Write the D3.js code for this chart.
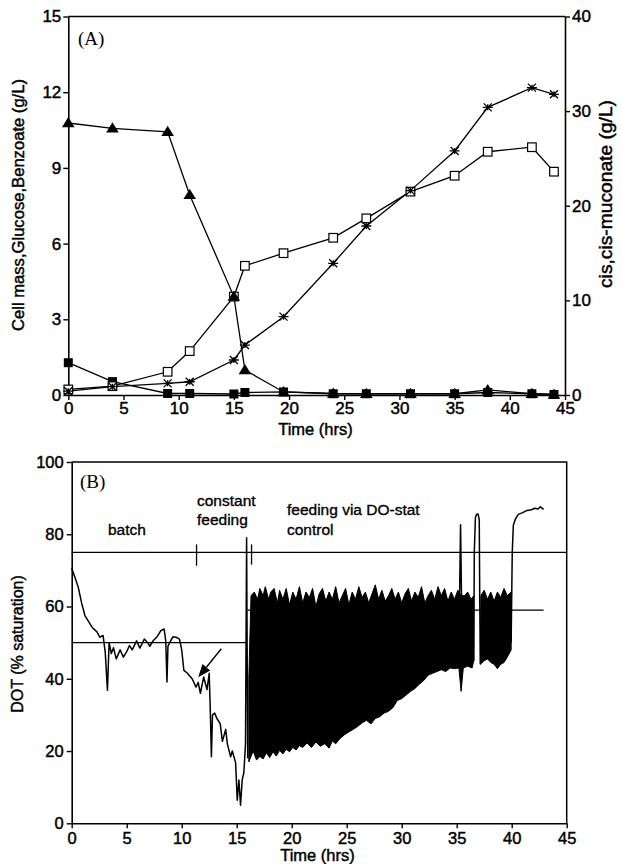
<!DOCTYPE html>
<html>
<head>
<meta charset="utf-8">
<script src="https://cdn.jsdelivr.net/npm/d3@7/dist/d3.min.js"></script>
<style>
    body { margin: 0; background: #fff; }
    svg text { font-family: "Liberation Sans", Arial, Helvetica, sans-serif; fill: #000; }
</style>
</head>
<body>
<div id="chart"></div>
<script>
// ---- Panel A : fermentation profile ----
const timesA    = [0, 4, 9, 11, 15, 16, 19.5, 24, 27, 31, 35, 38, 42, 44]
const benzoate  = [10.78, 10.57, 10.43, 7.93, 3.9, 0.99, 0.12, 0.06, 0.05, 0.05, 0.05, 0.2, 0.05, 0.02]
const glucose   = [1.28, 0.53, 0.06, 0.06, 0.04, 0.1, 0.12, 0.05, 0.05, 0.05, 0.05, 0.1, 0.05, 0.02]
const cellMass  = [0.22, 0.35, 0.92, 1.74, 3.9, 5.12, 5.62, 6.23, 7.0, 8.06, 8.69, 9.64, 9.82, 8.85]
const muconate  = [0.4, 0.88, 1.23, 1.4, 3.7, 5.28, 8.28, 13.92, 17.86, 21.6, 25.79, 30.4, 32.48, 31.78]

const ticksTime  = [0, 5, 10, 15, 20, 25, 30, 35, 40, 45]
const ticksLeftA = [0, 3, 6, 9, 12, 15]
const ticksRightA = [0, 10, 20, 30, 40]
const ticksDOT   = [0, 20, 40, 60, 80, 100]

// ---- Panel B : dissolved oxygen trace ----
// batch + constant feeding phase
const dotT = [0, 0.3, 0.6, 0.9, 1.2, 1.5, 1.8, 2.0, 2.3, 2.55, 2.85, 3.05, 3.25, 3.4, 3.6, 3.8, 4.05, 4.4, 4.7, 5.0,
              5.25, 5.5, 5.9, 6.2, 6.6, 6.9, 7.1, 7.4, 7.8, 8.1, 8.4, 8.55, 8.66, 8.75, 8.9, 9.2, 9.5, 9.8, 10.0, 10.2,
              10.5, 10.95, 11.3, 11.5, 11.7, 12.0, 12.3, 12.5, 12.6, 12.7, 12.8, 13.0, 13.2, 13.5, 13.7, 14.0, 14.15,
              14.45, 14.6, 14.9, 15.05, 15.2, 15.35, 15.5, 15.65, 15.8, 15.9, 16.0]
const dotV = [70.6, 68, 65.3, 61, 57.5, 56, 54.5, 53.8, 53, 51.5, 52, 47.3, 36.8, 50, 47, 48.6, 45.5, 48, 46, 47.5,
              49.2, 48, 50.5, 48.5, 51, 50, 49, 50.5, 51.8, 53.3, 53.8, 50.5, 39.1, 49, 50, 51.6, 51.5, 51, 48, 42.3,
              41.6, 40, 37.7, 39, 36, 40.5, 37, 41.5, 31.3, 18.4, 30, 30.5, 29, 27.6, 22.7, 26, 22,
              18.4, 20, 16.8, 6.4, 12, 5, 12, 14, 22, 79, 18]

// DO-stat oscillation band, upper and lower envelopes (two stretches)
const bandUpT1 = [16.1, 16.3, 16.6, 16.9, 17.1, 17.4, 17.6, 17.9, 18.1, 18.4, 18.7, 18.9, 19.2, 19.5, 19.8, 20.1, 20.4,
                  20.7, 21.0, 21.3, 21.6, 21.9, 22.2, 22.5, 22.8, 23.1, 23.4, 23.7, 24.0, 24.3, 24.6, 24.9, 25.2, 25.5,
                  25.8, 26.1, 26.4, 26.7, 27.0, 27.3, 27.6, 27.9, 28.2, 28.5, 28.8, 29.1, 29.4, 29.7, 30.0, 30.3, 30.6,
                  30.9, 31.2, 31.5, 31.8, 32.1, 32.4, 32.7, 33.0, 33.3, 33.6, 33.9, 34.2, 34.5, 34.8, 35.1, 35.4, 35.7,
                  36.0, 36.3, 36.55]
const bandUpV1 = [40, 63, 64, 62, 65, 63, 65.5, 62, 64, 65, 61, 64.5, 62, 65, 60.5, 64, 62,
                  65.5, 61, 64, 62.5, 65, 60, 63.5, 65, 61.5, 64, 62, 65.5, 61, 63, 65, 60.5, 64,
                  62, 65.5, 62.5, 64, 61, 63.5, 66, 62, 64.5, 61.5, 63, 65, 62, 64, 61, 63.5, 65,
                  61.5, 64, 62.5, 65.5, 61, 63, 64.5, 62, 65.5, 63, 65, 61.5, 64, 62, 64.5, 63, 63,
                  64, 62, 63]
const bandLoT1 = [16.1, 16.5, 16.8, 17.1, 17.4, 17.7, 18.0, 18.3, 18.6, 18.9, 19.2, 19.5, 19.8, 20.1, 20.4, 20.7, 21.0,
                  21.4, 21.8, 22.2, 22.6, 23.0, 23.4, 23.7, 24.0, 24.4, 24.8, 25.2, 25.6, 26.0, 26.4, 26.8, 27.2, 27.6,
                  28.0, 28.4, 28.8, 29.2, 29.6, 30.0, 30.4, 30.8, 31.2, 31.6, 32.0, 32.4, 32.8, 33.2, 33.6, 34.0, 34.4,
                  34.8, 35.2, 35.4, 35.6, 36.0, 36.4, 36.55]
const bandLoV1 = [17, 20, 17.5, 18.5, 17.8, 19.5, 18.2, 19.8, 18.6, 20.2, 19.2, 20.5, 19.8, 21, 20.3, 21.5, 21,
                  22.2, 21, 22.5, 21.3, 22, 20.8, 22.8, 22, 23.5, 24.5, 25.3, 26, 26.8, 27.8, 28.5, 27.5, 29,
                  29.5, 30.5, 31, 32, 34, 34.5, 35.5, 36.5, 37.3, 38.5, 39.5, 41, 41.5, 42, 42.5, 42, 43,
                  42.8, 43, 36.5, 43, 43.5, 43, 45]
const bandUpT2 = [37.15, 37.2, 37.5, 37.8, 38.1, 38.4, 38.7, 39.0, 39.3, 39.6, 39.95]
const bandUpV2 = [50, 63, 64.5, 62, 64, 61.5, 64, 62.5, 65, 63, 64]
const bandLoT2 = [37.15, 37.5, 37.8, 38.1, 38.4, 38.7, 39.0, 39.3, 39.6, 39.95]
const bandLoV2 = [44, 45, 45.5, 44.5, 44, 42.8, 44, 44.5, 46, 48]

// excursions above the band and the final batch-end rise
const spike1T = [35.25, 35.35, 35.45]
const spike1V = [60, 82.6, 60]
const spike2T = [36.55, 36.6, 36.7, 36.8, 36.95, 37.05, 37.1, 37.15]
const spike2V = [45, 75, 84.6, 85.5, 85.6, 84, 60, 44]
const riseT = [39.95, 40.05, 40.15, 40.35, 40.6, 41.0, 41.4, 41.8, 42.1, 42.4, 42.6, 42.9]
const riseV = [50, 75, 82.5, 84.3, 85.5, 86.0, 86.6, 86.8, 87.2, 87.0, 87.6, 86.9]

// set-point reference lines [t0, t1, value]
const refLines = [[0, 45, 75], [0, 15.9, 50], [16, 42.9, 59]]
// phase marks on the 75 % line [t, vLow, vHigh]
const phaseMarks = [[11.35, 71.3, 77.2], [16.35, 71.6, 77.2]]

const W = 622, H = 864

let svg = d3
    .select('#chart')
    .append('svg')
    .attr('width', W)
    .attr('height', H)

drawPanelA(svg)
drawPanelB(svg)

function styleAxis(g, size)
{
    g.attr('font-size', null).attr('font-family', null)
    g.selectAll('path.domain').attr('stroke-width', 1.6)
    g.selectAll('.tick line').attr('stroke-width', 1.4)
    g.selectAll('.tick text')
        .style('font-size', size + 'px')
        .attr('stroke', '#000')
        .attr('stroke-width', 0.45)
}

function drawPanelA(svg)
{
    let x  = d3.scaleLinear().domain([0, 45]).range([68.3, 565])
    let yL = d3.scaleLinear().domain([0, 15]).range([395, 16.5])
    let yR = d3.scaleLinear().domain([0, 40]).range([395, 16.5])

    let g = svg.append('g')

    // frame top
    g.append('line')
        .attr('x1', x(0)).attr('x2', x(45))
        .attr('y1', yL(15)).attr('y2', yL(15))
        .attr('stroke', '#000').attr('stroke-width', 1.5)

    g.append('g')
        .attr('transform', 'translate(0,' + yL(0) + ')')
        .call(d3.axisBottom(x).tickValues(ticksTime).tickSize(5).tickSizeOuter(0).tickPadding(2))
        .call(a => styleAxis(a, 17))

    g.append('g')
        .attr('transform', 'translate(' + x(0) + ',0)')
        .call(d3.axisLeft(yL).tickValues(ticksLeftA).tickSize(5).tickSizeOuter(0).tickPadding(2))
        .call(a => styleAxis(a, 17))

    g.append('g')
        .attr('transform', 'translate(' + x(45) + ',0)')
        .call(d3.axisRight(yR).tickValues(ticksRightA).tickSize(5).tickSizeOuter(0).tickPadding(2))
        .call(a => styleAxis(a, 17))

    let series = [
        {values: glucose,  y: yL, marker: 'fsquare'},
        {values: cellMass, y: yL, marker: 'osquare'},
        {values: muconate, y: yR, marker: 'star'},
        {values: benzoate, y: yL, marker: 'triangle'}
    ]

    series.forEach(s =>
    {
        let line = d3.line()
            .x((d, i) => x(timesA[i]))
            .y(d => s.y(d))

        g.append('path')
            .attr('d', line(s.values))
            .attr('fill', 'none')
            .attr('stroke', '#000')
            .attr('stroke-width', 1.3)
    })

    series.forEach(s =>
    {
        let pts = g.selectAll(null)
            .data(s.values)
            .enter()
            .append('g')
            .attr('transform', (d, i) => 'translate(' + x(timesA[i]) + ',' + s.y(d) + ')')

        if (s.marker == 'fsquare')
            pts.append('rect').attr('x', -4.5).attr('y', -4.5).attr('width', 9).attr('height', 9).attr('fill', '#000')
        if (s.marker == 'osquare')
            pts.append('rect').attr('x', -4.3).attr('y', -4.3).attr('width', 8.6).attr('height', 8.6)
                .attr('fill', '#fff').attr('stroke', '#000').attr('stroke-width', 1.2)
        if (s.marker == 'triangle')
            pts.append('path').attr('d', 'M0,-6 L6.3,4.2 L-6.3,4.2 Z').attr('fill', '#000')
        if (s.marker == 'star')
            pts.append('path').attr('d', 'M-5,0 H5 M-4,-4 L4,4 M-4,4 L4,-4 M0,-3 V3')
                .attr('stroke', '#000').attr('stroke-width', 1.3)
    })

    g.append('text')
        .attr('x', 78).attr('y', 45)
        .style('font-family', '"Liberation Serif", "Times New Roman", serif')
        .style('font-size', '19px')
        .text('(A)')

    g.append('text')
        .attr('transform', 'translate(24,205) rotate(-90)')
        .attr('text-anchor', 'middle')
        .attr('textLength', 252).attr('lengthAdjust', 'spacingAndGlyphs')
        .style('font-size', '16.5px')
        .attr('stroke', '#000').attr('stroke-width', 0.45)
        .text('Cell mass,Glucose,Benzoate (g/L)')

    g.append('text')
        .attr('transform', 'translate(612,194) rotate(-90)')
        .attr('text-anchor', 'middle')
        .attr('textLength', 188).attr('lengthAdjust', 'spacingAndGlyphs')
        .style('font-size', '17.5px')
        .attr('stroke', '#000').attr('stroke-width', 0.45)
        .text('cis,cis-muconate (g/L)')

    g.append('text')
        .attr('x', 315.5).attr('y', 435)
        .attr('text-anchor', 'middle')
        .style('font-size', '16.5px')
        .attr('stroke', '#000').attr('stroke-width', 0.45)
        .text('Time (hrs)')
}

function drawPanelB(svg)
{
    let x = d3.scaleLinear().domain([0, 45]).range([71.7, 566.7])
    let y = d3.scaleLinear().domain([0, 100]).range([823.3, 462])

    let g = svg.append('g')

    // frame top and right
    g.append('path')
        .attr('d', 'M' + x(0) + ',' + y(100) + 'H' + x(45) + 'V' + y(0))
        .attr('fill', 'none').attr('stroke', '#000').attr('stroke-width', 1.5)

    g.append('g')
        .attr('transform', 'translate(0,' + y(0) + ')')
        .call(d3.axisBottom(x).tickValues(ticksTime).tickSize(5).tickSizeOuter(0).tickPadding(4))
        .call(a => styleAxis(a, 16.5))

    g.append('g')
        .attr('transform', 'translate(' + x(0) + ',0)')
        .call(d3.axisLeft(y).tickValues(ticksDOT).tickSize(5).tickSizeOuter(0).tickPadding(3))
        .call(a => styleAxis(a, 16.5))

    let line = d3.line()
        .x(d => x(d[0]))
        .y(d => y(d[1]))

    // reference lines
    refLines.forEach(r =>
    {
        g.append('path')
            .attr('d', line([[r[0], r[2]], [r[1], r[2]]]))
            .attr('stroke', '#000').attr('stroke-width', 1.4)
    })

    phaseMarks.forEach(m =>
    {
        g.append('path')
            .attr('d', line([[m[0], m[1]], [m[0], m[2]]]))
            .attr('stroke', '#000').attr('stroke-width', 1.3)
    })

    let zip = (ts, vs) => ts.map((t, i) => [t, vs[i]])

    // oscillation band
    let bands = [
        [zip(bandUpT1, bandUpV1), zip(bandLoT1, bandLoV1)],
        [zip(bandUpT2, bandUpV2), zip(bandLoT2, bandLoV2)]
    ]
    bands.forEach(b =>
    {
        let pts = b[0].concat(b[1].slice().reverse())
        g.append('path')
            .attr('d', line(pts) + 'Z')
            .attr('fill', '#000')
            .attr('stroke', '#000')
            .attr('stroke-width', 1)
    })

    ;[zip(dotT, dotV), zip(spike1T, spike1V), zip(spike2T, spike2V), zip(riseT, riseV)].forEach(tr =>
    {
        g.append('path')
            .attr('d', line(tr))
            .attr('fill', 'none')
            .attr('stroke', '#000')
            .attr('stroke-width', 1.5)
            .attr('stroke-linejoin', 'round')
    })

    // arrow pointing at the feeding start
    let a0 = [x(13.6), y(48.3)], a1 = [x(11.5), y(40.4)]
    let ang = Math.atan2(a1[1] - a0[1], a1[0] - a0[0])
    let hl = 13, hw = 5
    let bx = a1[0] - hl * Math.cos(ang), by = a1[1] - hl * Math.sin(ang)
    g.append('line')
        .attr('x1', a0[0]).attr('y1', a0[1]).attr('x2', bx).attr('y2', by)
        .attr('stroke', '#000').attr('stroke-width', 1.4)
    g.append('path')
        .attr('d', 'M' + a1[0] + ',' + a1[1]
            + 'L' + (bx + hw * Math.sin(ang)) + ',' + (by - hw * Math.cos(ang))
            + 'L' + (bx - hw * Math.sin(ang)) + ',' + (by + hw * Math.cos(ang)) + 'Z')
        .attr('fill', '#000')

    g.append('text')
        .attr('x', 80).attr('y', 488)
        .style('font-family', '"Liberation Serif", "Times New Roman", serif')
        .style('font-size', '19px')
        .text('(B)')

    let notes = [
        ['batch', 108, 535],
        ['constant', 197, 506],
        ['feeding', 197, 525],
        ['feeding via DO-stat', 287, 515],
        ['control', 287, 535]
    ]
    g.selectAll(null)
        .data(notes)
        .enter()
        .append('text')
        .attr('x', d => d[1])
        .attr('y', d => d[2])
        .style('font-size', '15.5px')
        .attr('stroke', '#000').attr('stroke-width', 0.35)
        .text(d => d[0])

    g.append('text')
        .attr('transform', 'translate(22.5,644) rotate(-90)')
        .attr('text-anchor', 'middle')
        .style('font-size', '16px')
        .attr('stroke', '#000').attr('stroke-width', 0.45)
        .text('DOT (% saturation)')

    g.append('text')
        .attr('x', 317.5).attr('y', 861)
        .attr('text-anchor', 'middle')
        .style('font-size', '16.5px')
        .attr('stroke', '#000').attr('stroke-width', 0.45)
        .text('Time (hrs)')
}
</script>
</body>
</html>
